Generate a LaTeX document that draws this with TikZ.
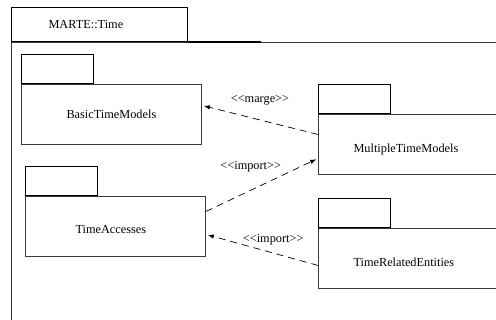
\documentclass[tikz,border=0pt]{standalone}
\usepackage{fontspec}
\setmainfont{Liberation Serif}
\usetikzlibrary{arrows.meta,positioning}
\definecolor{outline}{HTML}{3A3A3A}
\tikzset{
  frame/.style={draw=outline, line width=0.9pt, inner sep=0pt},
  pkgbody/.style={frame, minimum width=180pt, minimum height=60pt, anchor=north west},
  pkgtab/.style={draw=black, line width=0.9pt, inner sep=0pt,
    minimum width=72pt, minimum height=29pt, anchor=south west},
  pkgname/.style={font=\fontsize{12.3}{14}\selectfont, anchor=west},
  stereo/.style={font=\fontsize{12.3}{14}\selectfont},
  dep/.style={-{Latex[length=6pt,width=4.5pt]}, draw=black,
    dash pattern=on 7pt off 5pt, line width=0.7pt, shorten >=2pt}
}
\newcommand{\stereotype}[1]{<\kern0pt<#1>\kern0pt>}

\begin{document}
\begin{tikzpicture}[x=1pt, y=-1pt]
  \useasboundingbox (0,0) rectangle (496,320);
  \clip (0,0) rectangle (496,320);
  % enclosing package
  \node[frame, draw=black, minimum width=176pt, minimum height=34pt, anchor=south west] (marteTab) at (11,42) {};
  \node[frame, minimum width=520pt, minimum height=300pt, anchor=north west] (marte) at (11,42) {};
  \draw[black, line width=1.2pt] (marteTab.south east) -- ++(73,0);
  \node[pkgname] (marteName) at ([xshift=34pt]marteTab.west) {MARTE::Time};

  % nested packages
  \node[pkgbody] (btm) at (21,84) {};
  \node[pkgtab] (btmTab) at (btm.north west) {};
  \node[pkgname] (btmName) at ([xshift=42pt]btm.west) {BasicTimeModels};

  \node[pkgbody] (ta) at (25,196) {};
  \node[pkgtab] (taTab) at (ta.north west) {};
  \node[pkgname] (taName) at ([xshift=47pt,yshift=-3pt]ta.west) {TimeAccesses};

  \node[pkgbody, minimum width=200pt] (mtm) at (318,114) {};
  \node[pkgtab] (mtmTab) at (mtm.north west) {};
  \node[pkgname] (mtmName) at ([xshift=32pt,yshift=-5pt]mtm.west) {MultipleTimeModels};

  \node[pkgbody, minimum width=200pt] (tre) at (318,228) {};
  \node[pkgtab] (treTab) at (tre.north west) {};
  \node[pkgname] (treName) at ([xshift=32pt,yshift=-4pt]tre.west) {TimeRelatedEntities};

  % dependencies
  \draw[dep] ([yshift=10pt]mtm.west) -- node[stereo, above=11pt] (margeLbl) {\stereotype{marge}} ([yshift=9pt]btm.east);
  \draw[dep] ([yshift=15pt]ta.east) -- node[stereo, pos=0.4, above=14pt] (importLblA) {\stereotype{import}} ([yshift=-14pt]mtm.west);
  \draw[dep] ([yshift=-7pt]tre.west) -- node[stereo, pos=0.4, above=4pt] (importLblB) {\stereotype{import}} ([yshift=-8pt]ta.east);
\end{tikzpicture}
\end{document}
